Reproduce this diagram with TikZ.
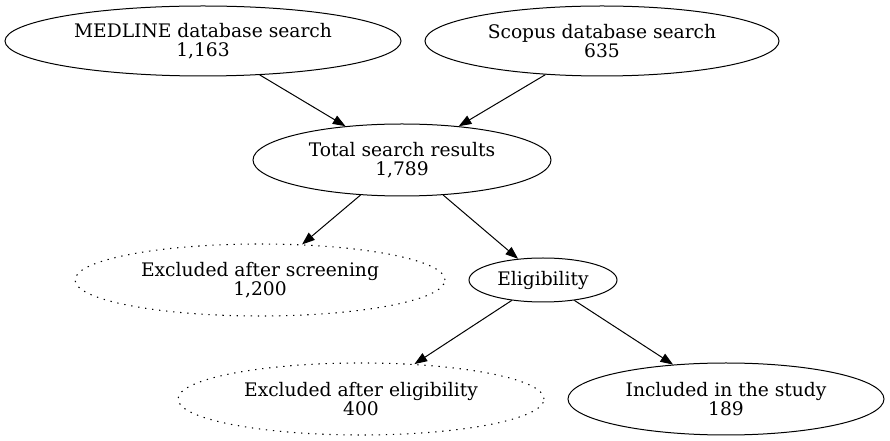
\documentclass[tikz,border=0pt]{standalone}
\usepackage{fontspec}
\setmainfont{DejaVu Serif}
\usetikzlibrary{shapes.geometric,arrows.meta}
\begin{document}
\begin{tikzpicture}[x=0.75pt,y=-0.75pt,
  every node/.style={font=\fontsize{14pt}{14.25pt}\selectfont, align=center, inner sep=0pt},
  ell/.style={draw, ellipse, line width=0.75pt},
  dotell/.style={draw, ellipse, line width=0.8pt, dash pattern=on 1pt off 4.3pt},
  arr/.style={line width=0.75pt, -{Triangle[length=9.5pt,width=7pt]}}]
\useasboundingbox (0,0) rectangle (890,441);
\node[ell, minimum width=396*0.75pt, minimum height=70*0.75pt] (med) at (203,41) {MEDLINE database search\\1,163};
\node[ell, minimum width=354*0.75pt, minimum height=70*0.75pt] (sco) at (602,41) {Scopus database search\\635};
\node[ell, minimum width=298*0.75pt, minimum height=72*0.75pt] (tot) at (402,160) {Total search results\\1,789};
\node[dotell, minimum width=370*0.75pt, minimum height=72*0.75pt] (exs) at (260,280) {Excluded after screening\\1,200};
\node[ell, minimum width=148*0.75pt, minimum height=44*0.75pt] (eli) at (543,280) {Eligibility};
\node[dotell, minimum width=366*0.75pt, minimum height=72*0.75pt] (exe) at (361,399) {Excluded after eligibility\\400};
\node[ell, minimum width=316*0.75pt, minimum height=72*0.75pt] (inc) at (726,399) {Included in the study\\189};
\draw[arr] (med) -- (tot);
\draw[arr] (sco) -- (tot);
\draw[arr] (tot) -- (exs);
\draw[arr] (tot) -- (eli);
\draw[arr] (eli) -- (exe);
\draw[arr] (eli) -- (inc);
\end{tikzpicture}
\end{document}
